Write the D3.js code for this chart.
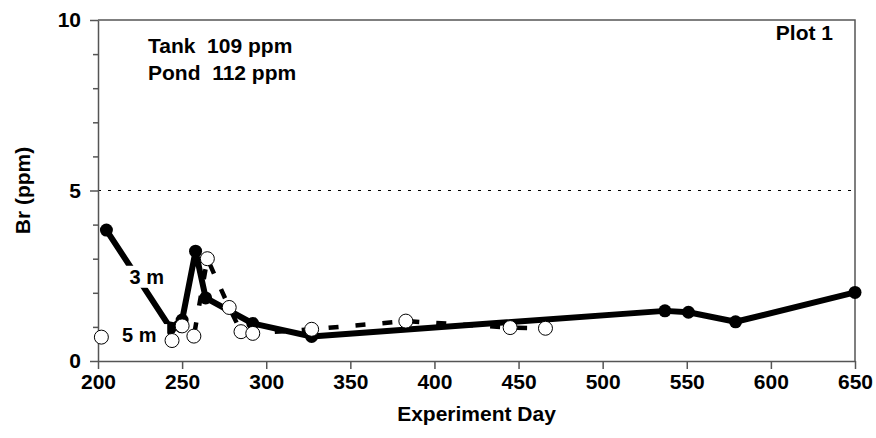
<html>
<head>
<style>
  body { margin: 0; background: #fff; }
  text { font-family: "Liberation Sans", Arial, sans-serif; font-weight: bold; }
</style>
</head>
<body>
<script src="https://d3js.org/d3.v7.min.js"></script>
<script>
  // 3 m depth (filled circles, solid line)
  var days3 = [205, 243, 250, 258, 264, 292, 327, 537, 551, 579, 650];
  var br3 = [3.84, 0.97, 1.2, 3.22, 1.85, 1.1, 0.72, 1.47, 1.43, 1.15, 2.01];
  // 5 m depth (open circles, dashed line)
  var days5 = [202, 244, 250, 257, 265, 278, 285, 292, 327, 383, 445, 466];
  var br5 = [0.70, 0.60, 1.03, 0.73, 3.0, 1.57, 0.86, 0.81, 0.93, 1.17, 0.98, 0.96];
  var xTicks = [200, 250, 300, 350, 400, 450, 500, 550, 600, 650];
  var yTicks = [0, 5, 10];
  var yMinor = [1, 2, 3, 4, 6, 7, 8, 9];
  var limitLine = 5;

  var width = 876, height = 438,
      mLeft = 98, mRight = 855, mTop = 20, mBottom = 361,
      fs = 21;

  var x = d3.scaleLinear().domain([200, 650]).range([mLeft, mRight]);
  var y = d3.scaleLinear().domain([0, 10]).range([mBottom, mTop]);

  var svg = d3.select('body').append('svg')
    .attr('width', width).attr('height', height);

  // frame (top and right)
  svg.append('path')
    .attr('d', `M${mLeft},${mTop}H${mRight}V${mBottom}`)
    .attr('fill', 'none').attr('stroke', '#555').attr('stroke-width', 1.5);

  // dotted reference line at 5
  svg.append('line')
    .attr('x1', mLeft).attr('x2', mRight)
    .attr('y1', y(limitLine)).attr('y2', y(limitLine))
    .attr('stroke', '#000').attr('stroke-width', 1.2)
    .attr('stroke-dasharray', '3,7');

  // minor y ticks
  svg.append('g')
    .attr('transform', `translate(${mLeft},0)`)
    .call(d3.axisLeft(y).tickValues(yMinor).tickSize(5).tickFormat(''))
    .call(g => g.select('.domain').remove())
    .selectAll('line').attr('stroke', '#555').attr('stroke-width', 1.5);

  // y axis
  svg.append('g')
    .attr('transform', `translate(${mLeft},0)`)
    .call(d3.axisLeft(y).tickValues(yTicks).tickSize(8).tickSizeOuter(0).tickPadding(9))
    .call(g => g.select('.domain').attr('stroke', '#555').attr('stroke-width', 1.5))
    .call(g => g.selectAll('line').attr('stroke', '#555').attr('stroke-width', 1.5))
    .selectAll('text').attr('font-size', fs).attr('fill', '#000');

  // x axis
  svg.append('g')
    .attr('transform', `translate(0,${mBottom})`)
    .call(d3.axisBottom(x).tickValues(xTicks).tickSize(8).tickSizeOuter(0).tickPadding(5))
    .call(g => g.select('.domain').attr('stroke', '#555').attr('stroke-width', 1.5))
    .call(g => g.selectAll('line').attr('stroke', '#555').attr('stroke-width', 1.5))
    .selectAll('text').attr('font-size', fs).attr('fill', '#000');

  // axis titles
  svg.append('text')
    .attr('x', (mLeft + mRight) / 2).attr('y', 421)
    .attr('text-anchor', 'middle').attr('font-size', fs)
    .text('Experiment Day');
  svg.append('text')
    .attr('transform', `translate(30,${(mTop + mBottom) / 2}) rotate(-90)`)
    .attr('text-anchor', 'middle').attr('font-size', fs)
    .text('Br (ppm)');

  var pts3 = days3.map((d, i) => ({ day: d, br: br3[i] }));
  var pts5 = days5.map((d, i) => ({ day: d, br: br5[i] }));
  var line = d3.line().x(d => x(d.day)).y(d => y(d.br));

  // 5 m dashed line
  svg.append('path').datum(pts5)
    .attr('d', line).attr('fill', 'none')
    .attr('stroke', '#000').attr('stroke-width', 4.5)
    .attr('stroke-dasharray', '10,17');

  // 3 m solid line
  svg.append('path').datum(pts3)
    .attr('d', line).attr('fill', 'none')
    .attr('stroke', '#000').attr('stroke-width', 6)
    .attr('stroke-linejoin', 'round');

  svg.selectAll('circle.s3').data(pts3).enter()
    .append('circle').attr('class', 's3')
    .attr('cx', d => x(d.day)).attr('cy', d => y(d.br))
    .attr('r', 6.5).attr('fill', '#000');

  // series labels with white background (cut the lines like the original)
  [{ t: '3 m', day: 229, br: 2.47, x0: -21, w: 42 }, { t: '5 m', day: 224.5, br: 0.76, x0: -32, w: 60 }].forEach(l => {
    var g = svg.append('g').attr('transform', `translate(${x(l.day)},${y(l.br)})`);
    g.append('rect').attr('x', l.x0).attr('y', -11).attr('width', l.w).attr('height', 22).attr('fill', '#fff');
    g.append('text').attr('text-anchor', 'middle').attr('dy', '0.36em')
      .attr('font-size', 20).text(l.t);
  });

  svg.selectAll('circle.s5').data(pts5).enter()
    .append('circle').attr('class', 's5')
    .attr('cx', d => x(d.day)).attr('cy', d => y(d.br))
    .attr('r', 7).attr('fill', '#fff').attr('stroke', '#000').attr('stroke-width', 1);

  // annotations
  svg.append('text').attr('x', 148).attr('y', 53).attr('font-size', fs).attr('xml:space', 'preserve').text('Tank  109 ppm');
  svg.append('text').attr('x', 148).attr('y', 80).attr('font-size', fs).attr('xml:space', 'preserve').text('Pond  112 ppm');
  svg.append('text').attr('x', 833).attr('y', 40).attr('text-anchor', 'end').attr('font-size', fs).text('Plot 1');
</script>
</body>
</html>
